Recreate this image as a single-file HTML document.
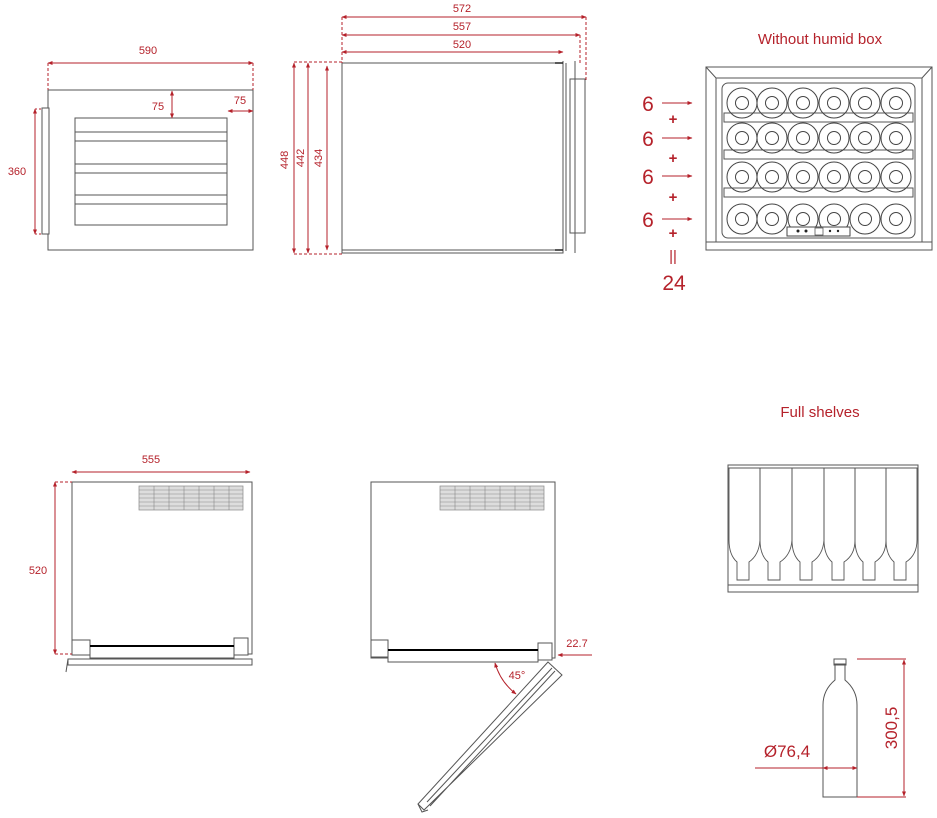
<!DOCTYPE html>
<html><head><meta charset="utf-8"><style>
html,body{margin:0;padding:0;background:#fff;width:937px;height:818px;overflow:hidden}
svg{display:block}
text{font-family:"Liberation Sans",sans-serif;fill:#b5222b}
</style></head><body>
<svg width="937" height="818" viewBox="0 0 937 818" xmlns="http://www.w3.org/2000/svg">
<defs>
<marker id="a" viewBox="0 0 10 10" refX="9" refY="5" markerWidth="5" markerHeight="5" orient="auto-start-reverse"><path d="M0,1 L10,5 L0,9z" fill="#b5222b"/></marker>
<g id="vent">
<rect x="0" y="0" width="104" height="24" fill="#ddd" stroke="#888" stroke-width="0.7"/>
<path d="M0,4H104M0,8H104M0,12H104M0,16H104M0,20H104M15,0V24M30,0V24M45,0V24M60,0V24M75,0V24M90,0V24" stroke="#888" stroke-width="0.6"/>
</g>
</defs>
<g fill="none" stroke="#555" stroke-width="1">
<!-- front view -->
<rect x="48" y="90" width="205" height="160"/>
<rect x="42" y="108" width="7" height="126" fill="#fff"/>
<rect x="75" y="118" width="152" height="107"/>
<path d="M75,132H227M75,141H227M75,164H227M75,173H227M75,195H227M75,204H227"/>
<!-- side view -->
<rect x="342" y="63" width="221" height="190"/>
<path d="M342,250H563"/>
<path d="M563,61V253M566,63V251M575,61V253"/>
<rect x="570" y="79" width="15" height="154"/>
<path d="M555,63H563M555,250H563" stroke="#222" stroke-width="1.5"/>
<!-- cabinet right -->
<rect x="706" y="67" width="226" height="183"/>
<path d="M706,67L716,78H922L932,67M716,78V242M922,78V242M706,242H932"/>
<rect x="722" y="83" width="193" height="155" rx="6"/>
<path d="M724,113H913V122H724ZM724,150H913V159H724ZM724,188H913V197H724Z"/>
<rect x="787" y="227" width="63" height="9" fill="#fff"/>
<!-- bottom left -->
<rect x="72" y="482" width="180" height="172"/>
<rect x="72" y="640" width="18" height="15" fill="#fff"/>
<rect x="234" y="638" width="14" height="17" fill="#fff"/>
<rect x="90" y="646" width="144" height="12" fill="#fff"/>
<path d="M90,646H234" stroke="#000" stroke-width="2"/>
<path d="M68,659H252V665H68Z M68,659L66,672"/>
<!-- bottom mid -->
<rect x="371" y="482" width="184" height="176"/>
<rect x="371" y="640" width="17" height="17" fill="#fff"/>
<rect x="538" y="643" width="14" height="17" fill="#fff"/>
<rect x="388" y="650" width="150" height="12" fill="#fff"/>
<path d="M388,650H538" stroke="#000" stroke-width="2"/>
<path d="M548,662L562,675L424,810L418,804Z M552,668L427,802 M555,671L430,806"/>
<path d="M418,804L422,812L428,810"/>
<!-- rack -->
<rect x="728" y="465" width="190" height="127"/>
<path d="M728,468H918M728,585H918"/>
<!-- single bottle -->
<path d="M823,797V705Q823,690 835,680V664H845V680Q857,690 857,705V797Z"/>
<rect x="834" y="659" width="12" height="6"/>
</g>
<g fill="none" stroke="#555" stroke-width="0.9">
<!-- rack bottles inverted -->
<path d="M729,468V540Q729,555 737,562V580H749V562Q759,555 760,540V468"/>
<path d="M760,468V540Q760,555 768,562V580H780V562Q791,555 792,540V468"/>
<path d="M792,468V540Q792,555 800,562V580H812V562Q823,555 824,540V468"/>
<path d="M824,468V540Q824,555 832,562V580H844V562Q855,555 855,540V468"/>
<path d="M855,468V540Q855,555 863,562V580H875V562Q886,555 886,540V468"/>
<path d="M886,468V540Q886,555 894,562V580H906V562Q917,555 917,540V468"/>
</g>
<g fill="none" stroke="#444" stroke-width="1">
<g id="row">
<circle cx="742" cy="103" r="15"/><circle cx="742" cy="103" r="6.5"/>
<circle cx="772" cy="103" r="15"/><circle cx="772" cy="103" r="6.5"/>
<circle cx="803" cy="103" r="15"/><circle cx="803" cy="103" r="6.5"/>
<circle cx="834" cy="103" r="15"/><circle cx="834" cy="103" r="6.5"/>
<circle cx="865" cy="103" r="15"/><circle cx="865" cy="103" r="6.5"/>
<circle cx="896" cy="103" r="15"/><circle cx="896" cy="103" r="6.5"/>
</g>
<use href="#row" y="35"/><use href="#row" y="74"/><use href="#row" y="116"/>
</g>
<rect x="787" y="227" width="63" height="9" fill="#fff" stroke="#444"/>
<circle cx="798" cy="231" r="1.5" fill="#222"/><circle cx="806" cy="231" r="1.5" fill="#222"/>
<rect x="815" y="228" width="8" height="7" fill="none" stroke="#444" stroke-width="0.7"/>
<circle cx="830" cy="231" r="1.2" fill="#222"/><circle cx="838" cy="231" r="1.2" fill="#222"/>
<use href="#vent" x="139" y="486"/>
<use href="#vent" x="440" y="486"/>
<!-- dimension lines -->
<g stroke="#b5222b" stroke-width="1" fill="none">
<path d="M48,63H253" marker-start="url(#a)" marker-end="url(#a)"/>
<path d="M48,63V90M253,63V90" stroke-dasharray="3,2"/>
<path d="M172,91V118" marker-start="url(#a)" marker-end="url(#a)"/>
<path d="M228,111H253" marker-start="url(#a)" marker-end="url(#a)"/>
<path d="M35,109V234" marker-start="url(#a)" marker-end="url(#a)"/>
<path d="M35,109H42M35,234H42" stroke-dasharray="2,2"/>
<path d="M342,17H586" marker-start="url(#a)" marker-end="url(#a)"/>
<path d="M342,35H580" marker-start="url(#a)" marker-end="url(#a)"/>
<path d="M342,52H563" marker-start="url(#a)" marker-end="url(#a)"/>
<path d="M342,17V63M586,17V80M580,35V63" stroke-dasharray="3,2"/>
<path d="M294,63V253" marker-start="url(#a)" marker-end="url(#a)"/>
<path d="M308,63V253" marker-start="url(#a)" marker-end="url(#a)"/>
<path d="M327,66V250" marker-start="url(#a)" marker-end="url(#a)"/>
<path d="M294,62H342M294,254H342" stroke-dasharray="3,2"/>
<path d="M662,103H692" marker-end="url(#a)"/>
<path d="M662,138H692" marker-end="url(#a)"/>
<path d="M662,176H692" marker-end="url(#a)"/>
<path d="M662,219H692" marker-end="url(#a)"/>
<path d="M72,472H250" marker-start="url(#a)" marker-end="url(#a)"/>
<path d="M55,482V654" marker-start="url(#a)" marker-end="url(#a)"/>
<path d="M55,482H72M55,654H72" stroke-dasharray="3,2"/>
<path d="M592,655H558" marker-end="url(#a)"/>
<path d="M495,663A60,60 0 0 0 516,694" marker-start="url(#a)" marker-end="url(#a)"/>
<path d="M857,659H906M857,797H906" />
<path d="M904,660V796" marker-start="url(#a)" marker-end="url(#a)"/>
<path d="M755,768H857" marker-end="url(#a)"/>
<path d="M823,768H857" marker-start="url(#a)"/>
</g>
<g font-size="11" text-anchor="middle">
<text x="148" y="54">590</text>
<text x="158" y="110">75</text>
<text x="240" y="104">75</text>
<text x="17" y="175">360</text>
<text x="462" y="12">572</text>
<text x="462" y="30">557</text>
<text x="462" y="48">520</text>
<text transform="translate(288,160) rotate(-90)">448</text>
<text transform="translate(304,158) rotate(-90)">442</text>
<text transform="translate(322,158) rotate(-90)">434</text>
<text x="151" y="463">555</text>
<text x="38" y="574">520</text>
<text x="577" y="647">22.7</text>
<text x="517" y="679">45°</text>
</g>
<g font-size="15" text-anchor="middle">
<text x="820" y="44">Without humid box</text>
<text x="820" y="417">Full shelves</text>
<text x="787" y="757" font-size="17">Ø76,4</text>
<text transform="translate(897,728) rotate(-90)" font-size="17">300,5</text>
</g>
<g font-size="21" text-anchor="middle">
<text x="648" y="111">6</text>
<text x="648" y="146">6</text>
<text x="648" y="184">6</text>
<text x="648" y="227">6</text>
<text x="674" y="290">24</text>
</g>
<g font-size="15" text-anchor="middle" font-weight="bold">
<text x="673" y="124">+</text>
<text x="673" y="163">+</text>
<text x="673" y="202">+</text>
<text x="673" y="238">+</text>
<text x="673" y="261" font-weight="normal">||</text>
</g>
</svg>
</body></html>
